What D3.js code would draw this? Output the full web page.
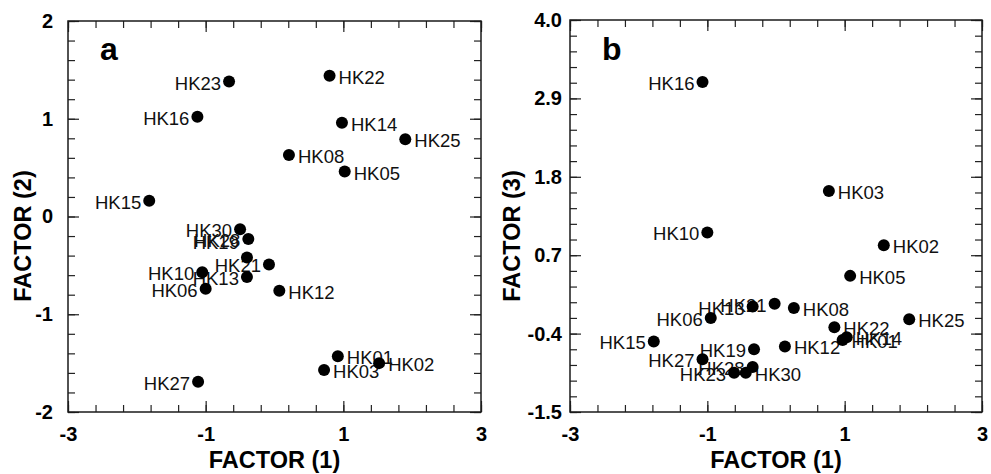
<!DOCTYPE html>
<html>
<head>
<meta charset="utf-8">
<script src="https://cdn.jsdelivr.net/npm/d3@7"></script>
<style>
  body { margin: 0; background: #fff; }
  svg { display: block; font-family: "Liberation Sans", Arial, Helvetica, sans-serif; }
</style>
</head>
<body>
<svg id="chart" width="991" height="474"></svg>
<script>
//----- Data -----
// panel a : FACTOR (1) vs FACTOR (2)
var samplesA = ['HK23','HK22','HK16','HK14','HK25','HK08','HK05','HK15','HK30','HK28',
                'HK19','HK21','HK10','HK13','HK06','HK12','HK01','HK03','HK02','HK27'];
var factor1A = [-0.66, 0.80, -1.12, 0.98, 1.90, 0.21, 1.02, -1.82, -0.50, -0.38,
                -0.40, -0.08, -1.05, -0.40, -1.00, 0.07, 0.92, 0.72, 1.52, -1.11];
var factor2A = [1.38, 1.44, 1.02, 0.96, 0.79, 0.63, 0.46, 0.16, -0.13, -0.23,
                -0.42, -0.49, -0.57, -0.62, -0.74, -0.76, -1.43, -1.57, -1.50, -1.69];

// panel b : FACTOR (1) vs FACTOR (3)
var samplesB = ['HK16','HK03','HK10','HK02','HK05','HK21','HK13','HK08','HK06','HK25',
                'HK22','HK15','HK14','HK01','HK19','HK12','HK27','HK28','HK23','HK30'];
var factor1B = [-1.07, 0.77, -1.00, 1.57, 1.08, -0.02, -0.34, 0.26, -0.95, 1.94,
                0.85, -1.78, 1.03, 0.97, -0.32, 0.13, -1.07, -0.34, -0.61, -0.44];
var factor3B = [3.13, 1.60, 1.02, 0.84, 0.41, 0.02, -0.02, -0.04, -0.18, -0.20,
                -0.31, -0.51, -0.45, -0.49, -0.62, -0.58, -0.76, -0.87, -0.95, -0.95];

// tick labels
var xTicks = [-3, -1, 1, 3];
var yTicksA = [-2, -1, 0, 1, 2];
var yTicksB = [-1.5, -0.4, 0.7, 1.8, 2.9, 4.0];

// which side of the dot each name is written on
var sideA = ['L','R','L','R','R','R','R','L','L','L','L','L','L','L','L','R','R','R','R','L'];
var sideB = ['L','R','L','R','R','L','L','R','L','R','R','L','R','R','L','R','L','L','L','R'];
// a few names are nudged up/down (px); HK19 sits on top of HK28 in the original
var shiftA = { HK19: -17 };
var shiftB = {};

//----- Panel -----
var Panel = function(svg, box, opts){
  this.svg = svg;
  this.box = box;
  this.opts = opts;
  this.x = d3.scaleLinear().domain([-3, 3]).range([box.left, box.right]);
  this.y = d3.scaleLinear().domain(opts.yDomain).range([box.bottom, box.top]);
}

Panel.prototype.minorTicks = function(domain, step){
  var n = Math.round((domain[1] - domain[0]) / step);
  return d3.range(n + 1).map(function(i){ return domain[0] + i * step; });
}

Panel.prototype.drawAxes = function(){
  var b = this.box, g = this.svg.append('g');
  var xMinor = this.minorTicks([-3, 3], 0.4);
  var yMinor = this.minorTicks(this.opts.yDomain, this.opts.yStep);
  var fmtX = function(d){ return String(d); };
  var fmtY = this.opts.yFormat;

  // ticks all point inward, on the four sides
  var axes = [
    { ax: d3.axisBottom(this.x), t: 'translate(0,' + b.bottom + ')', major: xTicks, minor: xMinor, fmt: fmtX, pad: 15 },
    { ax: d3.axisTop(this.x),    t: 'translate(0,' + b.top + ')',    major: xTicks, minor: xMinor, fmt: null },
    { ax: d3.axisLeft(this.y),   t: 'translate(' + b.left + ',0)',   major: this.opts.yTicks, minor: yMinor, fmt: fmtY, pad: this.opts.yPad },
    { ax: d3.axisRight(this.y),  t: 'translate(' + b.right + ',0)',  major: this.opts.yTicks, minor: yMinor, fmt: null }
  ];

  axes.forEach(function(a){
    var minor = g.append('g').attr('transform', a.t)
      .call(a.ax.tickValues(a.minor).tickSize(-7).tickFormat(''));
    minor.select('.domain').remove();

    var major = g.append('g').attr('transform', a.t)
      .call(a.ax.tickValues(a.major).tickSize(-11)
                .tickFormat(a.fmt ? a.fmt : '').tickPadding(a.pad || 3));
    major.select('.domain').remove();
    major.selectAll('text')
      .attr('font-size', 20)
      .attr('font-weight', 'bold')
      .attr('fill', '#000')
      .attr('font-family', '"Liberation Sans", Arial, sans-serif');
  });

  g.selectAll('.tick line').attr('stroke', '#222').attr('stroke-width', 1.2);

  g.append('rect')
    .attr('x', b.left).attr('y', b.top)
    .attr('width', b.right - b.left).attr('height', b.bottom - b.top)
    .attr('fill', 'none').attr('stroke', '#1a1a1a').attr('stroke-width', 1.5);

  // titles
  g.append('text')
    .attr('x', (b.left + b.right) / 2).attr('y', 468)
    .attr('text-anchor', 'middle')
    .attr('font-size', 23.5).attr('font-weight', 'bold')
    .text('FACTOR (1)');

  g.append('text')
    .attr('transform', 'translate(' + this.opts.yTitleX + ',236) rotate(-90)')
    .attr('text-anchor', 'middle')
    .attr('font-size', 23.5).attr('font-weight', 'bold')
    .text(this.opts.yTitle);

  g.append('text')
    .attr('x', this.opts.letterX).attr('y', 60)
    .attr('font-size', 32).attr('font-weight', 'bold')
    .text(this.opts.letter);
}

Panel.prototype.drawPoints = function(names, xs, ys, sides, shifts){
  var x = this.x, y = this.y;
  var pts = names.map(function(n, i){
    return { id: n, fx: xs[i], fy: ys[i], side: sides[i], dy: shifts[n] || 0 };
  });

  // names go underneath the dots
  this.svg.append('g').selectAll('text.name')
    .data(pts, function(d){ return d.id; })
    .enter().append('text')
    .attr('class', 'name')
    .attr('x', function(d){ return x(d.fx) + (d.side === 'R' ? 9 : -8); })
    .attr('y', function(d){ return y(d.fy) + 8 + d.dy; })
    .attr('text-anchor', function(d){ return d.side === 'R' ? 'start' : 'end'; })
    .attr('font-size', 18.5)
    .attr('fill', '#111')
    .text(function(d){ return d.id; });

  this.svg.append('g').selectAll('circle.dot')
    .data(pts, function(d){ return d.id; })
    .enter().append('circle')
    .attr('class', 'dot')
    .attr('cx', function(d){ return x(d.fx); })
    .attr('cy', function(d){ return y(d.fy); })
    .attr('r', 6)
    .attr('fill', '#000');
}
//----- Panel End -----

var svg = d3.select('#chart');

var panelA = new Panel(svg, { left: 68, right: 481, top: 21, bottom: 412 }, {
  yDomain: [-2, 2], yStep: 0.2, yTicks: yTicksA, yPad: 15,
  yFormat: function(d){ return String(d); },
  yTitle: 'FACTOR (2)', yTitleX: 31, letter: 'a', letterX: 100
});
panelA.drawAxes();
panelA.drawPoints(samplesA, factor1A, factor2A, sideA, shiftA);

var panelB = new Panel(svg, { left: 570, right: 982, top: 20, bottom: 412 }, {
  yDomain: [-1.5, 4.0], yStep: 0.22, yTicks: yTicksB, yPad: 8,
  yFormat: function(d){ return d.toFixed(1); },
  yTitle: 'FACTOR (3)', yTitleX: 520, letter: 'b', letterX: 602
});
panelB.drawAxes();
panelB.drawPoints(samplesB, factor1B, factor3B, sideB, shiftB);
</script>
</body>
</html>
